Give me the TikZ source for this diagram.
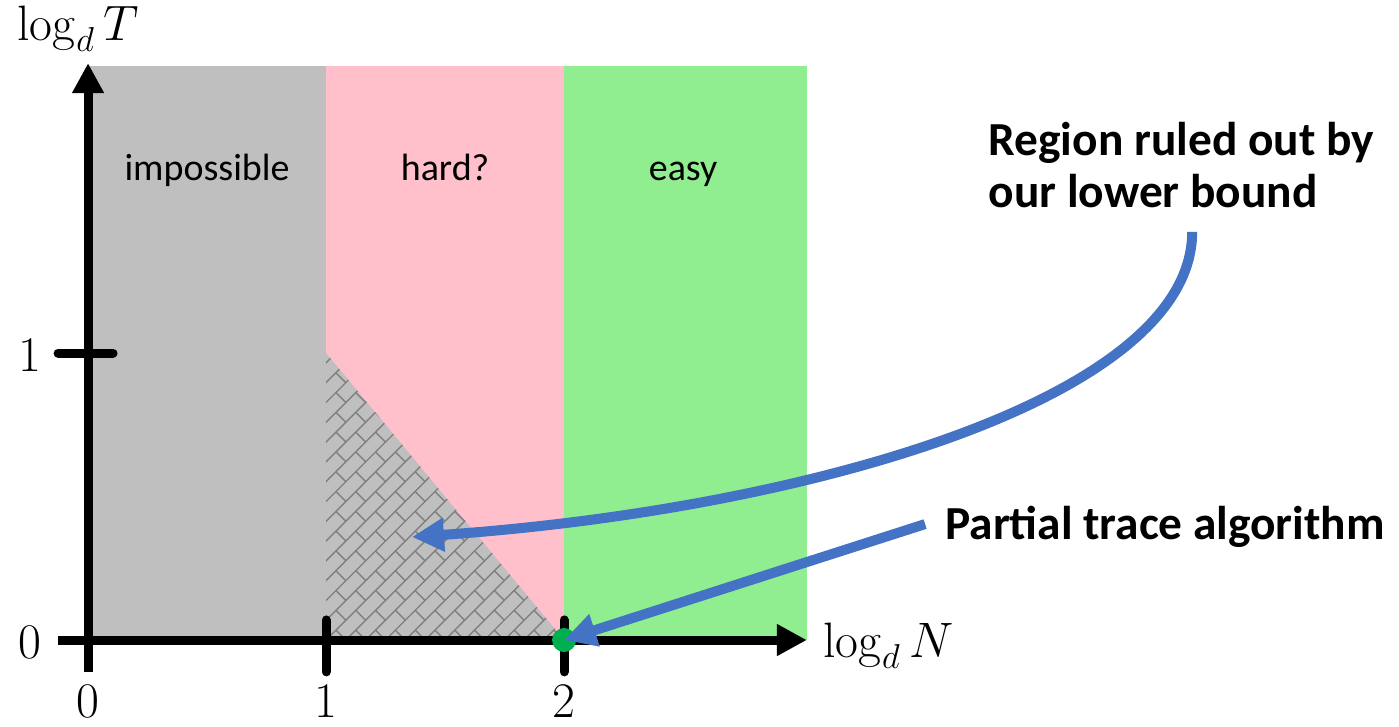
\documentclass[tikz,border=0pt]{standalone}
\usepackage[no-math]{fontspec}
\setmainfont{Carlito}
\usetikzlibrary{arrows.meta,positioning,calc}
\definecolor{impGray}{HTML}{BFBFBF}
\definecolor{hardPink}{HTML}{FFC0CB}
\definecolor{easyGreen}{HTML}{90EE90}
\definecolor{arrowBlue}{HTML}{4472C4}
\definecolor{dotGreen}{HTML}{00B050}
\definecolor{brickGray}{HTML}{808080}

\begin{document}
\begin{tikzpicture}[x=119pt,y=143.5pt,
  region/.style={font=\fontsize{19}{22}\selectfont,anchor=base},
  callout/.style={font=\bfseries\fontsize{23.7}{26}\selectfont,align=left,anchor=west,inner sep=0pt},
  axislabel/.style={font=\fontsize{25}{28}\selectfont},
  axisline/.style={line width=4.5pt,-{Triangle[length=15pt,width=15pt]}},
  tickmark/.style={line width=4.5pt,line cap=round},
  pointer/.style={arrowBlue,line width=5pt,-{Triangle[length=16pt,width=16pt]}}]
\useasboundingbox (-0.37,-0.303) rectangle (5.508,2.230);
% regions
\fill[impGray] (0,0) rectangle (1,2);
\fill[hardPink] (1,0) rectangle (2,2);
\fill[easyGreen] (2,0) rectangle (3.02,2);
\fill[impGray] (1,1) -- (1,0) -- (2,0) -- cycle;
% brick hatching of the ruled out part
\begin{scope}
\clip (1,1) -- (1,0) -- (2,0) -- cycle;
\begin{scope}[shift={(1,0)},rotate=45,brickGray,line width=0.7pt]
\foreach \r in {-14,...,16}{
  \draw (-20pt,\r*7pt) -- (220pt,\r*7pt);
  \pgfmathsetmacro\off{mod(\r+100,2)*7}
  \foreach \c in {-2,...,15}
    \draw (\c*14pt+\off pt,\r*7pt) -- ++(0,7pt);
}
\end{scope}
\end{scope}
% axes
\coordinate (xstart) at (-0.126,0);
\coordinate (xend) at (3.02,0);
\coordinate (ystart) at (0,-0.111);
\coordinate (yend) at (0,2.01);
\draw[axisline] (xstart) -- (xend);
\draw[axisline] (ystart) -- (yend);
\coordinate (ytickL) at (-0.126,1);
\coordinate (ytickR) at (0.105,1);
\draw[tickmark] (ytickL) -- (ytickR);
\foreach \x in {1,2}{
  \coordinate (xtickT\x) at (\x,0.07);
  \coordinate (xtickB\x) at (\x,-0.111);
  \draw[tickmark] (xtickT\x) -- (xtickB\x);
}
% tick and axis labels
\node[axislabel] (ylab0) at (-0.244,-0.01) {$0$};
\node[axislabel] (ylab1) at (-0.244,0.99) {$1$};
\node[axislabel] (xlab0) at (0,-0.215) {$0$};
\node[axislabel] (xlab1) at (1,-0.215) {$1$};
\node[axislabel] (xlab2) at (2,-0.215) {$2$};
\node[axislabel,anchor=west,inner sep=0pt] (xname) at (3.088,-0.02) {$\log_d N$};
\node[axislabel] (yname) at (-0.042,2.13) {$\log_d T$};
% region names
\node[region] (imposs) at (0.5,1.6) {impossible};
\node[region] (hard) at (1.5,1.6) {hard?};
\node[region] (easy) at (2.5,1.6) {easy};
% partial trace point
\node[circle,fill=dotGreen,minimum size=12pt,inner sep=0pt] (trace) at (2,0) {};
% callouts
\node[callout] (boundtxt) at (3.782,1.655) {Region ruled out by\\our lower bound};
\node[callout] (tracetxt) at (3.60,0.394) {Partial trace algorithm};
\coordinate (boundtail) at (4.639,1.422);
\coordinate (boundtip) at (1.361,0.359);
\coordinate (tracetail) at (3.517,0.404);
\draw[pointer] (boundtail) .. controls (4.639,0.836) and (2.992,0.453) .. (boundtip);
\draw[pointer] (tracetail) -- (trace.center);
\end{tikzpicture}
\end{document}
